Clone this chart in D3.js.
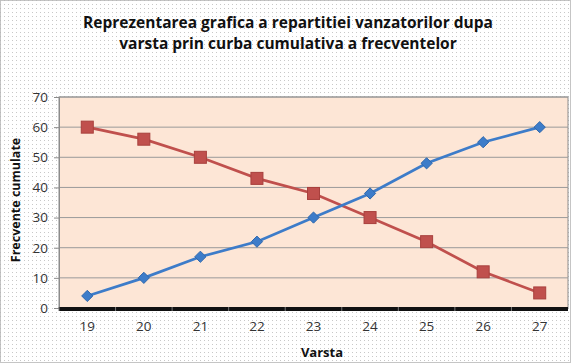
<!DOCTYPE html>
<html>
<head>
<meta charset="utf-8">
<script src="https://cdn.jsdelivr.net/npm/d3@7"></script>
<style>
  body { margin: 0; background: #fff; }
  text { font-family: "Open Sans", "Liberation Sans", sans-serif; }
</style>
</head>
<body>
<div id="main"></div>
<script>
// data
const ages = ["19", "20", "21", "22", "23", "24", "25", "26", "27"];
const ascending = [4, 10, 17, 22, 30, 38, 48, 55, 60];
const descending = [60, 56, 50, 43, 38, 30, 22, 12, 5];
const yTicks = [0, 10, 20, 30, 40, 50, 60, 70];
const titleLines = ["Reprezentarea grafica a repartitiei vanzatorilor dupa",
                    "varsta prin curba cumulativa a frecventelor"];

const width = 571, height = 363;
const plotLeft = 59, plotRight = 568, plotTop = 97, plotBottom = 308;

const svg = d3.select("#main").append("svg")
  .attr("width", width).attr("height", height);

// dotted backdrop
const defs = svg.append("defs");
const pat = defs.append("pattern").attr("id", "dots")
  .attr("width", 4).attr("height", 4).attr("patternUnits", "userSpaceOnUse");
pat.append("rect").attr("width", 4).attr("height", 4).attr("fill", "#fff");
pat.append("rect").attr("width", 1).attr("height", 1).attr("fill", "#c8c8c8");

svg.append("rect").attr("x", 0.5).attr("y", 0.5)
  .attr("width", width - 1).attr("height", height - 1)
  .attr("fill", "url(#dots)").attr("stroke", "#8a8a8a").attr("stroke-dasharray", "1,1");

const x = d3.scaleBand().domain(ages).range([plotLeft, plotRight]);
const y = d3.scaleLinear().domain([0, 70]).range([plotBottom, plotTop]);

// plot area
svg.append("rect").attr("x", plotLeft).attr("y", plotTop)
  .attr("width", plotRight - plotLeft).attr("height", plotBottom - plotTop)
  .attr("fill", "#fde6d6").attr("stroke", "#8c8c8c");

// gridlines
svg.append("g").selectAll("line").data(yTicks.slice(1)).enter().append("line")
  .attr("x1", plotLeft).attr("x2", plotRight)
  .attr("y1", d => y(d)).attr("y2", d => y(d))
  .attr("stroke", "#9a9a9a").attr("stroke-width", 1);

// y axis
const yAxis = svg.append("g").attr("transform", "translate(" + plotLeft + ",0)")
  .call(d3.axisLeft(y).tickValues(yTicks).tickSize(5).tickPadding(6));
yAxis.select(".domain").attr("stroke", "#8c8c8c");
yAxis.selectAll(".tick line").attr("stroke", "#8c8c8c");
yAxis.selectAll("text").attr("font-size", 13.5).attr("fill", "#333")
  .style("font-family", "'Open Sans', sans-serif");

// x axis: thick black base
svg.append("rect").attr("x", plotLeft).attr("y", plotBottom - 1)
  .attr("width", plotRight - plotLeft).attr("height", 4).attr("fill", "#111");
const xAxis = svg.append("g").attr("transform", "translate(0," + (plotBottom + 3) + ")")
  .call(d3.axisBottom(x).tickSize(0).tickPadding(10));
xAxis.select(".domain").remove();
xAxis.selectAll("text").attr("font-size", 13.5).attr("fill", "#333")
  .style("font-family", "'Open Sans', sans-serif");
svg.append("g").selectAll("line").data(ages).enter().append("line")
  .attr("x1", d => x(d)).attr("x2", d => x(d))
  .attr("y1", plotBottom - 1).attr("y2", plotBottom + 3)
  .attr("stroke", "#777");

// lines
const line = vals => d3.line()
  .x((d, i) => x(ages[i]) + x.bandwidth() / 2)
  .y(d => y(d))(vals);

svg.append("path").attr("d", line(descending))
  .attr("fill", "none").attr("stroke", "#c0504d").attr("stroke-width", 2.75);
svg.append("path").attr("d", line(ascending))
  .attr("fill", "none").attr("stroke", "#3d7cc9").attr("stroke-width", 2.75);

// markers
svg.append("g").selectAll("rect").data(descending).enter().append("rect")
  .attr("x", (d, i) => x(ages[i]) + x.bandwidth() / 2 - 6)
  .attr("y", d => y(d) - 6)
  .attr("width", 12).attr("height", 12)
  .attr("fill", "#c0504d").attr("stroke", "#a8403d");

svg.append("g").selectAll("path").data(ascending).enter().append("path")
  .attr("d", d3.symbol().type(d3.symbolDiamond2).size(80))
  .attr("transform", (d, i) => "translate(" + (x(ages[i]) + x.bandwidth() / 2) + "," + y(d) + ")")
  .attr("fill", "#3d7cc9").attr("stroke", "#2f68ad");

// title
svg.append("g").selectAll("text").data(titleLines).enter().append("text")
  .attr("x", 288).attr("y", (d, i) => 28 + i * 21)
  .attr("text-anchor", "middle")
  .attr("font-size", 15.5).attr("font-weight", "bold").attr("fill", "#111")
  .text(d => d);

// axis titles
svg.append("text")
  .attr("transform", "translate(20,200) rotate(-90)")
  .attr("text-anchor", "middle")
  .attr("font-size", 12.5).attr("font-weight", "bold").attr("fill", "#111")
  .text("Frecvente cumulate");

svg.append("text")
  .attr("x", 322).attr("y", 357)
  .attr("text-anchor", "middle")
  .attr("font-size", 13).attr("font-weight", "bold").attr("fill", "#111")
  .text("Varsta");
</script>
</body>
</html>
